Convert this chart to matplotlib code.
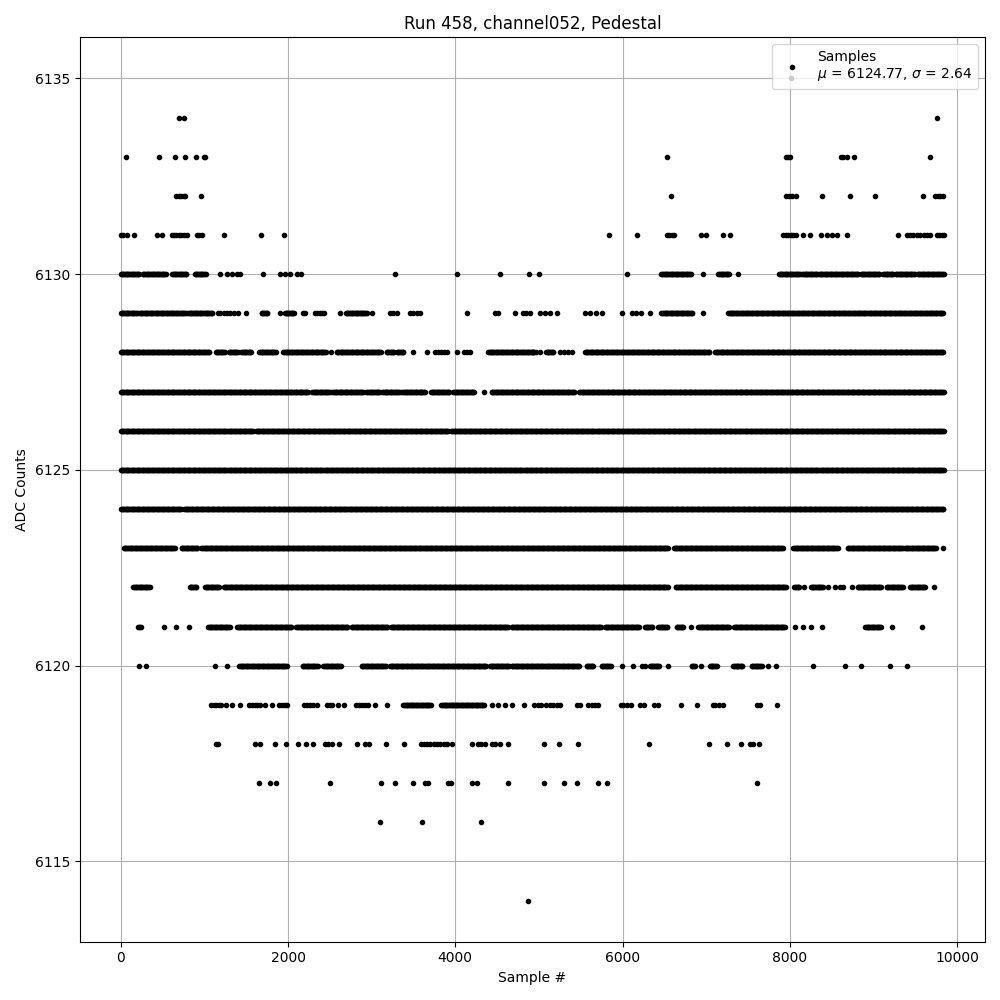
import numpy as np
import matplotlib
matplotlib.use("Agg")
import matplotlib.pyplot as plt

# pedestal samples
# runs: (first sample, last sample) where the ADC row is densely filled
# dots: individual sample indices seen at that ADC value
n_samples = 9844
mu, sigma = 6124.77, 2.64

runs = {
    6130: [(0, 227), (260, 547), (614, 786), (885, 1016), (6466, 6825), (7145, 7276),
           (7871, 8122), (8150, 8333), (8349, 8828), (8852, 9079), (9118, 9238),
           (9266, 9505), (9529, 9843)],
    6129: [(0, 206), (227, 786), (805, 1103), (1683, 1762), (1962, 2081), (2690, 2940),
           (6466, 6844), (7264, 9843)],
    6128: [(0, 1063), (1136, 1250), (1290, 1400), (1440, 1563), (1654, 1862), (1942, 2460),
           (2580, 3118), (3178, 3270), (3300, 3385), (4394, 4951), (5084, 5180),
           (5550, 7045), (7105, 9843)],
    6127: [(0, 2241), (2289, 2500), (2528, 2898), (2938, 3098), (3126, 3336), (3365, 3644),
           (3708, 3935), (3975, 4234), (4434, 5430), (5482, 9843)],
    6126: [(0, 1582), (1615, 3919), (3951, 9843)],
    6125: [(0, 9843)],
    6124: [(0, 726), (757, 9843)],
    6123: [(36, 646), (726, 924), (964, 6546), (6614, 7922), (8042, 8580), (8692, 9357),
           (9378, 9757)],
    6122: [(147, 347), (825, 912), (1005, 1184), (1232, 6546), (6634, 7962), (8054, 8122),
           (8254, 8401), (8812, 9099), (9159, 9357), (9438, 9625)],
    6121: [(207, 246), (1044, 1304), (1391, 2043), (2101, 2719), (2759, 3197), (3230, 4633),
           (4673, 5750), (5789, 6208), (6268, 6367), (6427, 6539), (6646, 6734),
           (6905, 7284), (7332, 7950), (8900, 9091)],
    6120: [(1415, 1990), (2173, 2360), (2420, 2632), (2879, 3178), (3218, 4374), (4414, 4653),
           (4673, 5490), (5570, 5650), (5750, 5869), (6328, 6447), (6826, 6866),
           (7045, 7125), (7324, 7443), (7543, 7663)],
    6119: [(3377, 3716), (3835, 4354)],
}

dots = {
    6135: [8020],
    6134: [694, 757, 9761],
    6133: [64, 457, 649, 768, 901, 1000, 1012, 6535, 7950, 7975, 8000, 8612, 8640, 8680,
           8768, 9680],
    6132: [666, 690, 720, 750, 770, 960, 6583, 7950, 7990, 8030, 8070, 8389, 8724, 9023,
           9597, 9737, 9770, 9800, 9836],
    6131: [0, 28, 80, 159, 434, 493, 614, 640, 660, 690, 720, 750, 786, 906, 930, 966, 1235,
           1678, 1953, 5841, 6176, 6527, 6560, 6590, 6614, 6934, 6997, 7204, 7288, 7922,
           7950, 7980, 8010, 8040, 8070, 8161, 8241, 8373, 8440, 8500, 8560, 8687, 9290,
           9405, 9440, 9480, 9520, 9560, 9600, 9640, 9677, 9757, 9790, 9820, 9843],
    6130: [1184, 1268, 1328, 1388, 1423, 1695, 1902, 1962, 2021, 2103, 2150, 3278, 4023,
           4537, 4880, 5004, 6056, 6957, 7384],
    6129: [1163, 1190, 1230, 1270, 1310, 1350, 1403, 1495, 1902, 2173, 2201, 2321, 2350,
           2380, 2410, 2432, 2620, 2999, 3218, 3250, 3298, 3457, 3500, 3545, 3577, 4135,
           4474, 4506, 4713, 4812, 4850, 4892, 5012, 5070, 5130, 5211, 5550, 5610, 5680,
           5750, 5996, 6108, 6160, 6220, 6328, 6957],
    6128: [2512, 3495, 3660, 3756, 3790, 3830, 3860, 3896, 4015, 4107, 4140, 4174, 4930,
           4970, 5012, 5250, 5300, 5350, 5391],
    6127: [4342],
    6123: [9828],
    6122: [8173, 8461, 8541, 8600, 8640, 8740, 9728],
    6121: [514, 658, 817, 6814, 8062, 8154, 8250, 8381, 9226, 9584],
    6120: [219, 307, 1131, 1272, 5989, 6128, 6228, 6268, 6546, 6934, 7743, 7839, 8281,
           8660, 8855, 9198, 9405],
    6119: [1084, 1110, 1140, 1170, 1200, 1263, 1335, 1431, 1535, 1570, 1600, 1630, 1662,
           1730, 1814, 1894, 1930, 1960, 1990, 2189, 2230, 2261, 2300, 2341, 2461, 2500,
           2528, 2600, 2672, 2815, 2850, 2880, 2920, 2960, 3038, 3189, 4434, 4513, 4593,
           4673, 4823, 4943, 4990, 5030, 5080, 5130, 5170, 5211, 5251, 5450, 5490, 5590,
           5630, 5670, 5710, 5976, 6010, 6050, 6096, 6208, 6256, 6376, 6427, 6695, 6886,
           7077, 7110, 7150, 7204, 7604, 7643, 7851],
    6118: [1136, 1163, 1603, 1662, 1846, 1981, 2121, 2209, 2299, 2448, 2480, 2520, 2608,
           2827, 2926, 2966, 3166, 3389, 3596, 3630, 3660, 3700, 3740, 3780, 3820, 3860,
           3900, 3955, 4195, 4274, 4310, 4354, 4442, 4480, 4533, 4633, 5060, 5243, 5462,
           6320, 7036, 7245, 7416, 7524, 7556, 7635],
    6117: [1654, 1790, 1862, 2500, 3106, 3278, 3495, 3636, 3676, 3915, 3943, 4203, 4254,
           4633, 5060, 5303, 5458, 5710, 5818, 7611],
    6116: [3102, 3604, 4311],
    6114: [4872],
}


def build_samples():
    xs, ys = [], []
    for level, segs in runs.items():
        for a, b in segs:
            idx = np.arange(a, b + 1, 10)
            xs.append(idx)
            ys.append(np.full(len(idx), level))
    for level, pts in dots.items():
        xs.append(np.array(pts))
        ys.append(np.full(len(pts), level))
    x = np.concatenate(xs)
    y = np.concatenate(ys)
    order = np.argsort(x, kind="stable")
    return x[order], y[order]


x, y = build_samples()

fig, ax = plt.subplots(figsize=(10, 10), dpi=100)
ax.plot(x, y, '.', color='black',
        label='Samples\n' + rf'$\mu$ = {mu:.2f}, $\sigma$ = {sigma:.2f}')
ax.set_xlim(-0.05 * (n_samples - 1), 1.05 * (n_samples - 1))
ax.set_title("Run 458, channel052, Pedestal")
ax.set_xlabel("Sample #")
ax.set_ylabel("ADC Counts")
ax.grid(True)
ax.legend(loc='upper right')
fig.tight_layout()
fig.savefig("out.png")
